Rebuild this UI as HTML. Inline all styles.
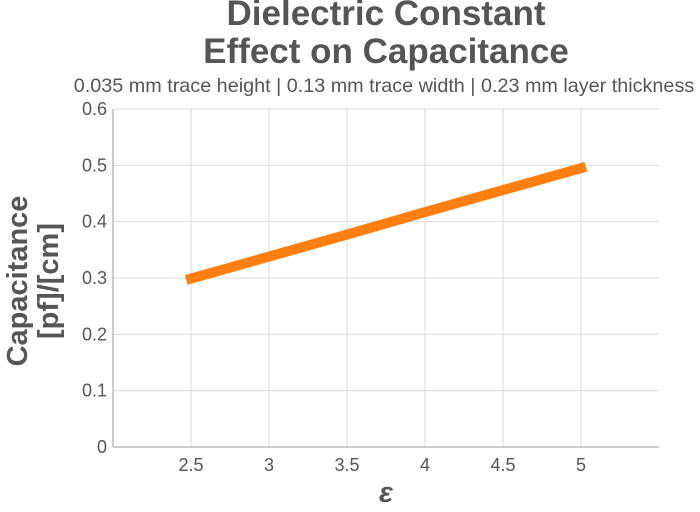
<!DOCTYPE html>
<html><head><meta charset="utf-8"><style>
body{margin:0;background:#fff;}
svg{display:block;font-family:"Liberation Sans",sans-serif;}
</style></head><body>
<svg id="chart" width="700" height="512">
<text x="386" y="25" text-anchor="middle" font-size="35" font-weight="bold" fill="#555">Dielectric Constant</text>
<text x="386" y="63" text-anchor="middle" font-size="35" font-weight="bold" fill="#555">Effect on Capacitance</text>
<text x="384" y="92" text-anchor="middle" font-size="19.8" fill="#555">0.035 mm trace height | 0.13 mm trace width | 0.23 mm layer thickness</text>
<g id="grid"></g>
<g id="axes"></g>
<g id="series"></g>
<text transform="translate(27,281) rotate(-90)" text-anchor="middle" font-size="29" font-weight="bold" fill="#555">Capacitance</text>
<text transform="translate(58,281) rotate(-90)" text-anchor="middle" font-size="29" font-weight="bold" fill="#555">[pf]/[cm]</text>
<text x="386" y="502" text-anchor="middle" font-size="29" font-weight="bold" font-style="italic" fill="#555">ε</text>
</svg>
<script>
const xValues=[2.5,3,3.5,4,4.5,5];
const capValues=[0.299,0.338,0.377,0.417,0.456,0.495];
const xTicks=[2.5,3,3.5,4,4.5,5];
const xTickLabels=["2.5","3","3.5","4","4.5","5"];
const yTicks=[0,0.1,0.2,0.3,0.4,0.5,0.6];
const yTickLabels=["0","0.1","0.2","0.3","0.4","0.5","0.6"];
const NS="http://www.w3.org/2000/svg";
const L=113,R=659,T=109,B=447,xMin=2,xMax=5.5,yMin=0,yMax=0.6;
const sx=v=>L+(v-xMin)/(xMax-xMin)*(R-L);
const sy=v=>B-(v-yMin)/(yMax-yMin)*(B-T);
function mk(tag,attrs,parent){const e=document.createElementNS(NS,tag);for(const k in attrs)e.setAttribute(k,attrs[k]);parent.appendChild(e);return e;}
const grid=document.getElementById('grid'),axes=document.getElementById('axes'),series=document.getElementById('series');
xTicks.forEach((t,i)=>{
 const g=mk('line',{x1:sx(t),x2:sx(t),y1:T,y2:B,stroke:'#d9d9d9','stroke-width':1},grid);
 
 
 const tx=mk('text',{x:sx(t),y:B+24,'text-anchor':'middle','font-size':18,fill:'#555'},axes);
 tx.textContent=xTickLabels[i];
 
 
});
yTicks.forEach((t,i)=>{
 const g=mk('line',{x1:L,x2:R,y1:sy(t),y2:sy(t),stroke:'#d9d9d9','stroke-width':1},grid);
 
 
 const tx=mk('text',{x:L-6,y:sy(t)+6,'text-anchor':'end','font-size':18,fill:'#555'},axes);
 tx.textContent=yTickLabels[i];
 
 
});
const ax=mk('line',{x1:L,x2:R,y1:B,y2:B,stroke:'#999','stroke-width':1},axes);


const ay=mk('line',{x1:L,x2:L,y1:T,y2:B,stroke:'#999','stroke-width':1},axes);


const pl=mk('polyline',{points:xValues.map((x,i)=>sx(x)+','+sy(capValues[i])).join(' '),fill:'none',stroke:'#ff7f0e','stroke-width':10,'stroke-linecap':'square'},series);


</script>
</body></html>
